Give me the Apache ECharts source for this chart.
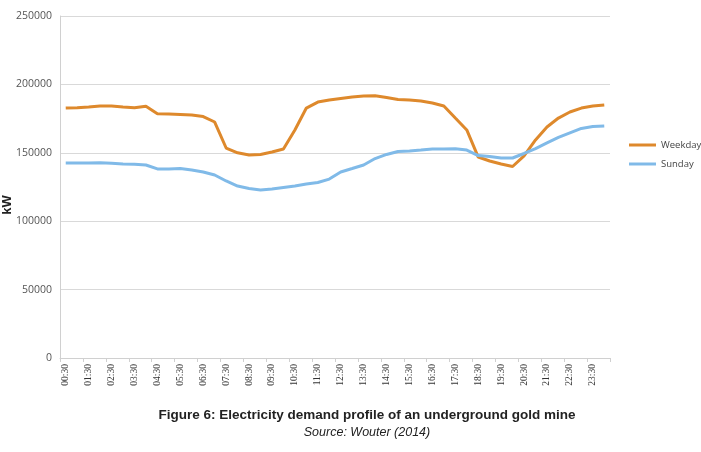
<!DOCTYPE html>
<html><head><meta charset="utf-8">
<script src="https://cdn.jsdelivr.net/npm/echarts@6/dist/echarts.min.js"></script>
<style>html,body{margin:0;padding:0;background:#fff}#c{width:701px;height:452px}</style>
</head><body><div id="c"></div>
<script>
const categories = [];
for (let h = 0; h < 24; h++) {
  const hh = String(h).padStart(2, '0');
  categories.push(hh + ':30');
  categories.push(String(h + 1).padStart(2, '0') + ':00');
}
const weekday = [182700,183000,183500,184200,184200,183500,183000,184000,178500,178300,
  178000,177600,176500,172500,153500,150000,148400,148800,150600,152800,
  166700,182700,187100,188600,189700,190800,191500,191700,190400,189000,
  188600,187900,186400,184200,175400,166700,146900,144000,141800,140000,
  147700,159400,168900,175400,179800,182700,184200,185000];
const sunday = [142500,142500,142500,142800,142400,141800,141700,141100,138200,138200,
  138500,137400,136000,133800,129400,125700,123900,122800,123500,124600,
  125700,127200,128300,130800,136000,138500,141100,145800,148800,151000,
  151300,152000,152800,152800,153000,152000,148000,147300,146200,146200,
  149500,153100,157200,161200,164500,167800,169200,169600];
const yTicks = [0, 50000, 100000, 150000, 200000, 250000];

const chart = echarts.init(document.getElementById('c'));
chart.setOption({
  animation: false,
  title: [{
    text: 'Figure 6: Electricity demand profile of an underground gold mine',
    left: 362, top: 403, textAlign: 'center',
    textStyle: {fontFamily: 'Liberation Sans', fontWeight: 'bold', fontSize: 13.5, color: '#222'}
  }, {
    text: 'Source: Wouter (2014)',
    left: 362, top: 421, textAlign: 'center',
    textStyle: {fontFamily: 'Liberation Sans', fontStyle: 'italic', fontWeight: 'normal', fontSize: 12.5, color: '#222'}
  }],
  grid: {left: 60, right: 91, top: 16, bottom: 94, outerBoundsMode: 'none', containLabel: false},
  legend: {
    orient: 'vertical', left: 624, top: 135, itemWidth: 27, itemHeight: 3, itemGap: 9,
    icon: 'rect',
    textStyle: {fontFamily: 'Open Sans', fontSize: 9.5, color: '#444'},
    data: ['Weekday', 'Sunday']
  },
  xAxis: {
    type: 'category', data: categories, boundaryGap: true,
    axisLine: {lineStyle: {color: '#d0d0d0'}},
    axisTick: {show: true, interval: 1, length: 4, lineStyle: {color: '#d0d0d0'}},
    axisLabel: {interval: 1, rotate: 90, fontFamily: 'Liberation Serif', fontSize: 9.5, color: '#333', margin: 6}
  },
  yAxis: {
    type: 'value', min: 0, max: 250000, interval: 50000,
    name: 'kW', nameLocation: 'middle', nameGap: 46, nameRotate: 90, nameMoveOverlap: false,
    nameTextStyle: {fontFamily: 'Liberation Sans', fontWeight: 'bold', fontSize: 13, color: '#222', padding: [0, 36, 0, 0]},
    axisLine: {show: true, lineStyle: {color: '#d0d0d0'}},
    axisTick: {show: false},
    axisLabel: {fontFamily: 'Open Sans', fontSize: 10.5, color: '#555', margin: 8,
      formatter: v => yTicks.includes(v) ? String(v) : ''},
    splitLine: {lineStyle: {color: '#d9d9d9'}}
  },
  series: [{
    name: 'Weekday', type: 'line', data: weekday, showSymbol: false, symbol: 'none',
    lineStyle: {width: 3, color: '#DE892C'}, itemStyle: {color: '#DE892C'}
  }, {
    name: 'Sunday', type: 'line', data: sunday, showSymbol: false, symbol: 'none',
    lineStyle: {width: 3, color: '#80BAE8'}, itemStyle: {color: '#80BAE8'}
  }]
});
</script></body></html>
